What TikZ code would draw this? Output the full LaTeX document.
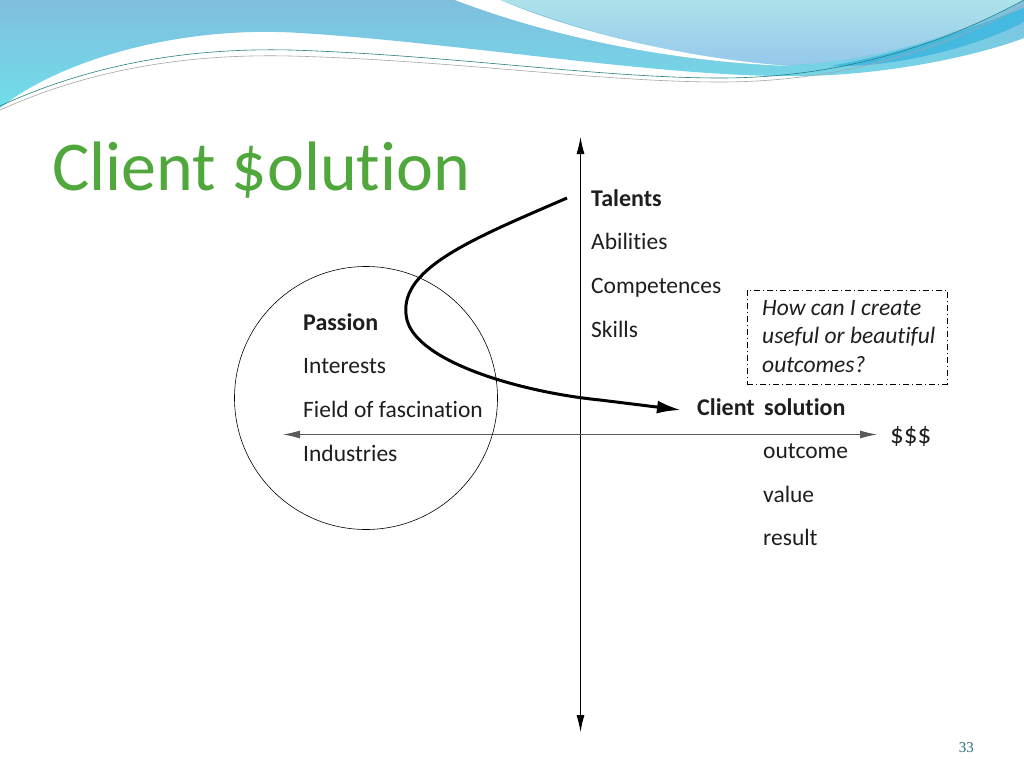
\documentclass[tikz,border=0pt]{standalone}
\usepackage{fontspec}
\setmainfont{Carlito}[Ligatures={NoCommon}]
\newfontfamily\pagenumfont{Liberation Serif}
\usetikzlibrary{arrows.meta}
\definecolor{titlegreen}{RGB}{80,168,60}
\definecolor{inkgray}{RGB}{30,30,30}
\definecolor{axisgray}{RGB}{90,90,90}
\definecolor{waveblue}{RGB}{128,190,222}
\definecolor{wavecyan}{RGB}{112,222,234}
\definecolor{palecyan}{RGB}{172,226,234}
\definecolor{paleblue}{RGB}{150,200,236}
\definecolor{deepcyan}{RGB}{70,185,225}
\definecolor{pagenum}{RGB}{40,110,130}
\tikzset{
  lbl/.style={anchor=base west, inner sep=0pt, text=inkgray, font=\fontsize{23.5}{23.5}\selectfont},
  lblb/.style={lbl, font=\fontsize{24}{24}\selectfont\bfseries},
  lbli/.style={lbl, font=\fontsize{23.5}{23.5}\selectfont\itshape},
  axis/.style={draw=black, line width=0.9pt, -{Latex[length=17pt,width=8pt]}},
  curvearrow/.style={draw=black, line width=3pt, -{Latex[length=24pt,width=13pt]}},
  qbox/.style={draw=black, line width=0.7pt, dash pattern=on 6pt off 3pt on 1pt off 3pt}
}
\begin{document}
\begin{tikzpicture}[x=1pt,y=-1pt]
\useasboundingbox (0,0) rectangle (1024,768);
\fill[white] (0,0) rectangle (1024,768);
% ---- top decoration ----
\shade[top color=waveblue, bottom color=wavecyan]
  (0,0) -- (0,108) .. controls (60,60) and (180,25) .. (300,33)
  .. controls (450,42) and (650,75) .. (780,76)
  .. controls (880,78) and (980,55) .. (1024,38) -- (1024,0) -- cycle;
\shade[top color=palecyan, bottom color=paleblue]
  (500,0) .. controls (580,30) and (680,60) .. (790,65)
  .. controls (900,60) and (990,20) .. (1024,0) -- cycle;
\fill[white] (455,0) .. controls (560,40) and (680,62) .. (790,66)
  .. controls (680,58) and (570,30) .. (500,0) -- cycle;
\fill[deepcyan] (830,66) .. controls (920,50) and (990,20) .. (1024,8)
  -- (1024,22) .. controls (980,45) and (900,68) .. (830,66) -- cycle;
\draw[teal!70!gray, line width=0.6pt] (0,106) .. controls (100,60) and (200,48) .. (290,50)
  .. controls (450,55) and (600,78) .. (720,78) .. controls (850,78) and (950,40) .. (1024,0);
\draw[gray!70, line width=0.6pt] (0,110) .. controls (100,65) and (200,54) .. (290,56)
  .. controls (450,60) and (600,82) .. (720,82) .. controls (850,82) and (950,45) .. (1024,5);
% ---- title ----
\node[anchor=base west, inner sep=0pt, text=titlegreen, font=\fontsize{70}{70}\selectfont] (title) at (52,190) {Client \$olution};
% ---- axes ----
\coordinate (vtop) at (580.5,137);
\coordinate (vbot) at (580.5,732);
\coordinate (hleft) at (283,434.5);
\coordinate (hright) at (877,434.5);
\coordinate (origin) at (580.5,434.5);
\draw[axis] (origin) -- (vtop);
\draw[axis] (origin) -- (vbot);
\draw[axis, draw=axisgray] (origin) -- (hleft);
\draw[axis, draw=axisgray] (origin) -- (hright);
% ---- circle ----
\node[draw=black, line width=0.6pt, circle, minimum size=263pt, inner sep=0pt] (passioncircle) at (366,398) {};
% ---- passion texts ----
\node[lblb] (passion) at (303,330) {Passion};
\node[lbl] (interests) at (303,373) {Interests};
\node[lbl] (field) at (303,417) {Field of fascination};
\node[lbl] (industries) at (303,461) {Industries};
% ---- talents texts ----
\node[lblb] (talents) at (591,206) {Talents};
\node[lbl] (abilities) at (591,249) {Abilities};
\node[lbl] (competences) at (591,293) {Competences};
\node[lbl] (skills) at (591,337) {Skills};
% ---- client solution ----
\node[lblb] (client) at (697,415) {Client\, solution};
\node[lbl, font=\fontsize{27}{27}\selectfont] (dollars) at (890,443) {\$\$\$};
\node[lbl] (outcome) at (763,458) {outcome};
\node[lbl] (value) at (763,502) {value};
\node[lbl] (result) at (763,545) {result};
% ---- question box ----
\node[qbox, minimum width=200pt, minimum height=94pt, inner sep=0pt] (qbox) at (847,337) {};
\node[lbli] (q1) at (762,315) {How can I create};
\node[lbli] (q2) at (762,343) {useful or beautiful};
\node[lbli] (q3) at (762,372) {outcomes?};
% ---- curve ----
\coordinate (cstart) at (567,198);
\coordinate (cend) at (681,410);
\draw[curvearrow] (cstart) .. controls (470,240) and (395,270) .. (407,320)
  .. controls (418,362) and (520,392) .. (600,400) -- (cend);
% ---- page number ----
\node[anchor=base east, inner sep=0pt, text=pagenum, font=\pagenumfont\fontsize{15}{15}\selectfont] (pnum) at (974,752) {33};
\end{tikzpicture}
\end{document}
